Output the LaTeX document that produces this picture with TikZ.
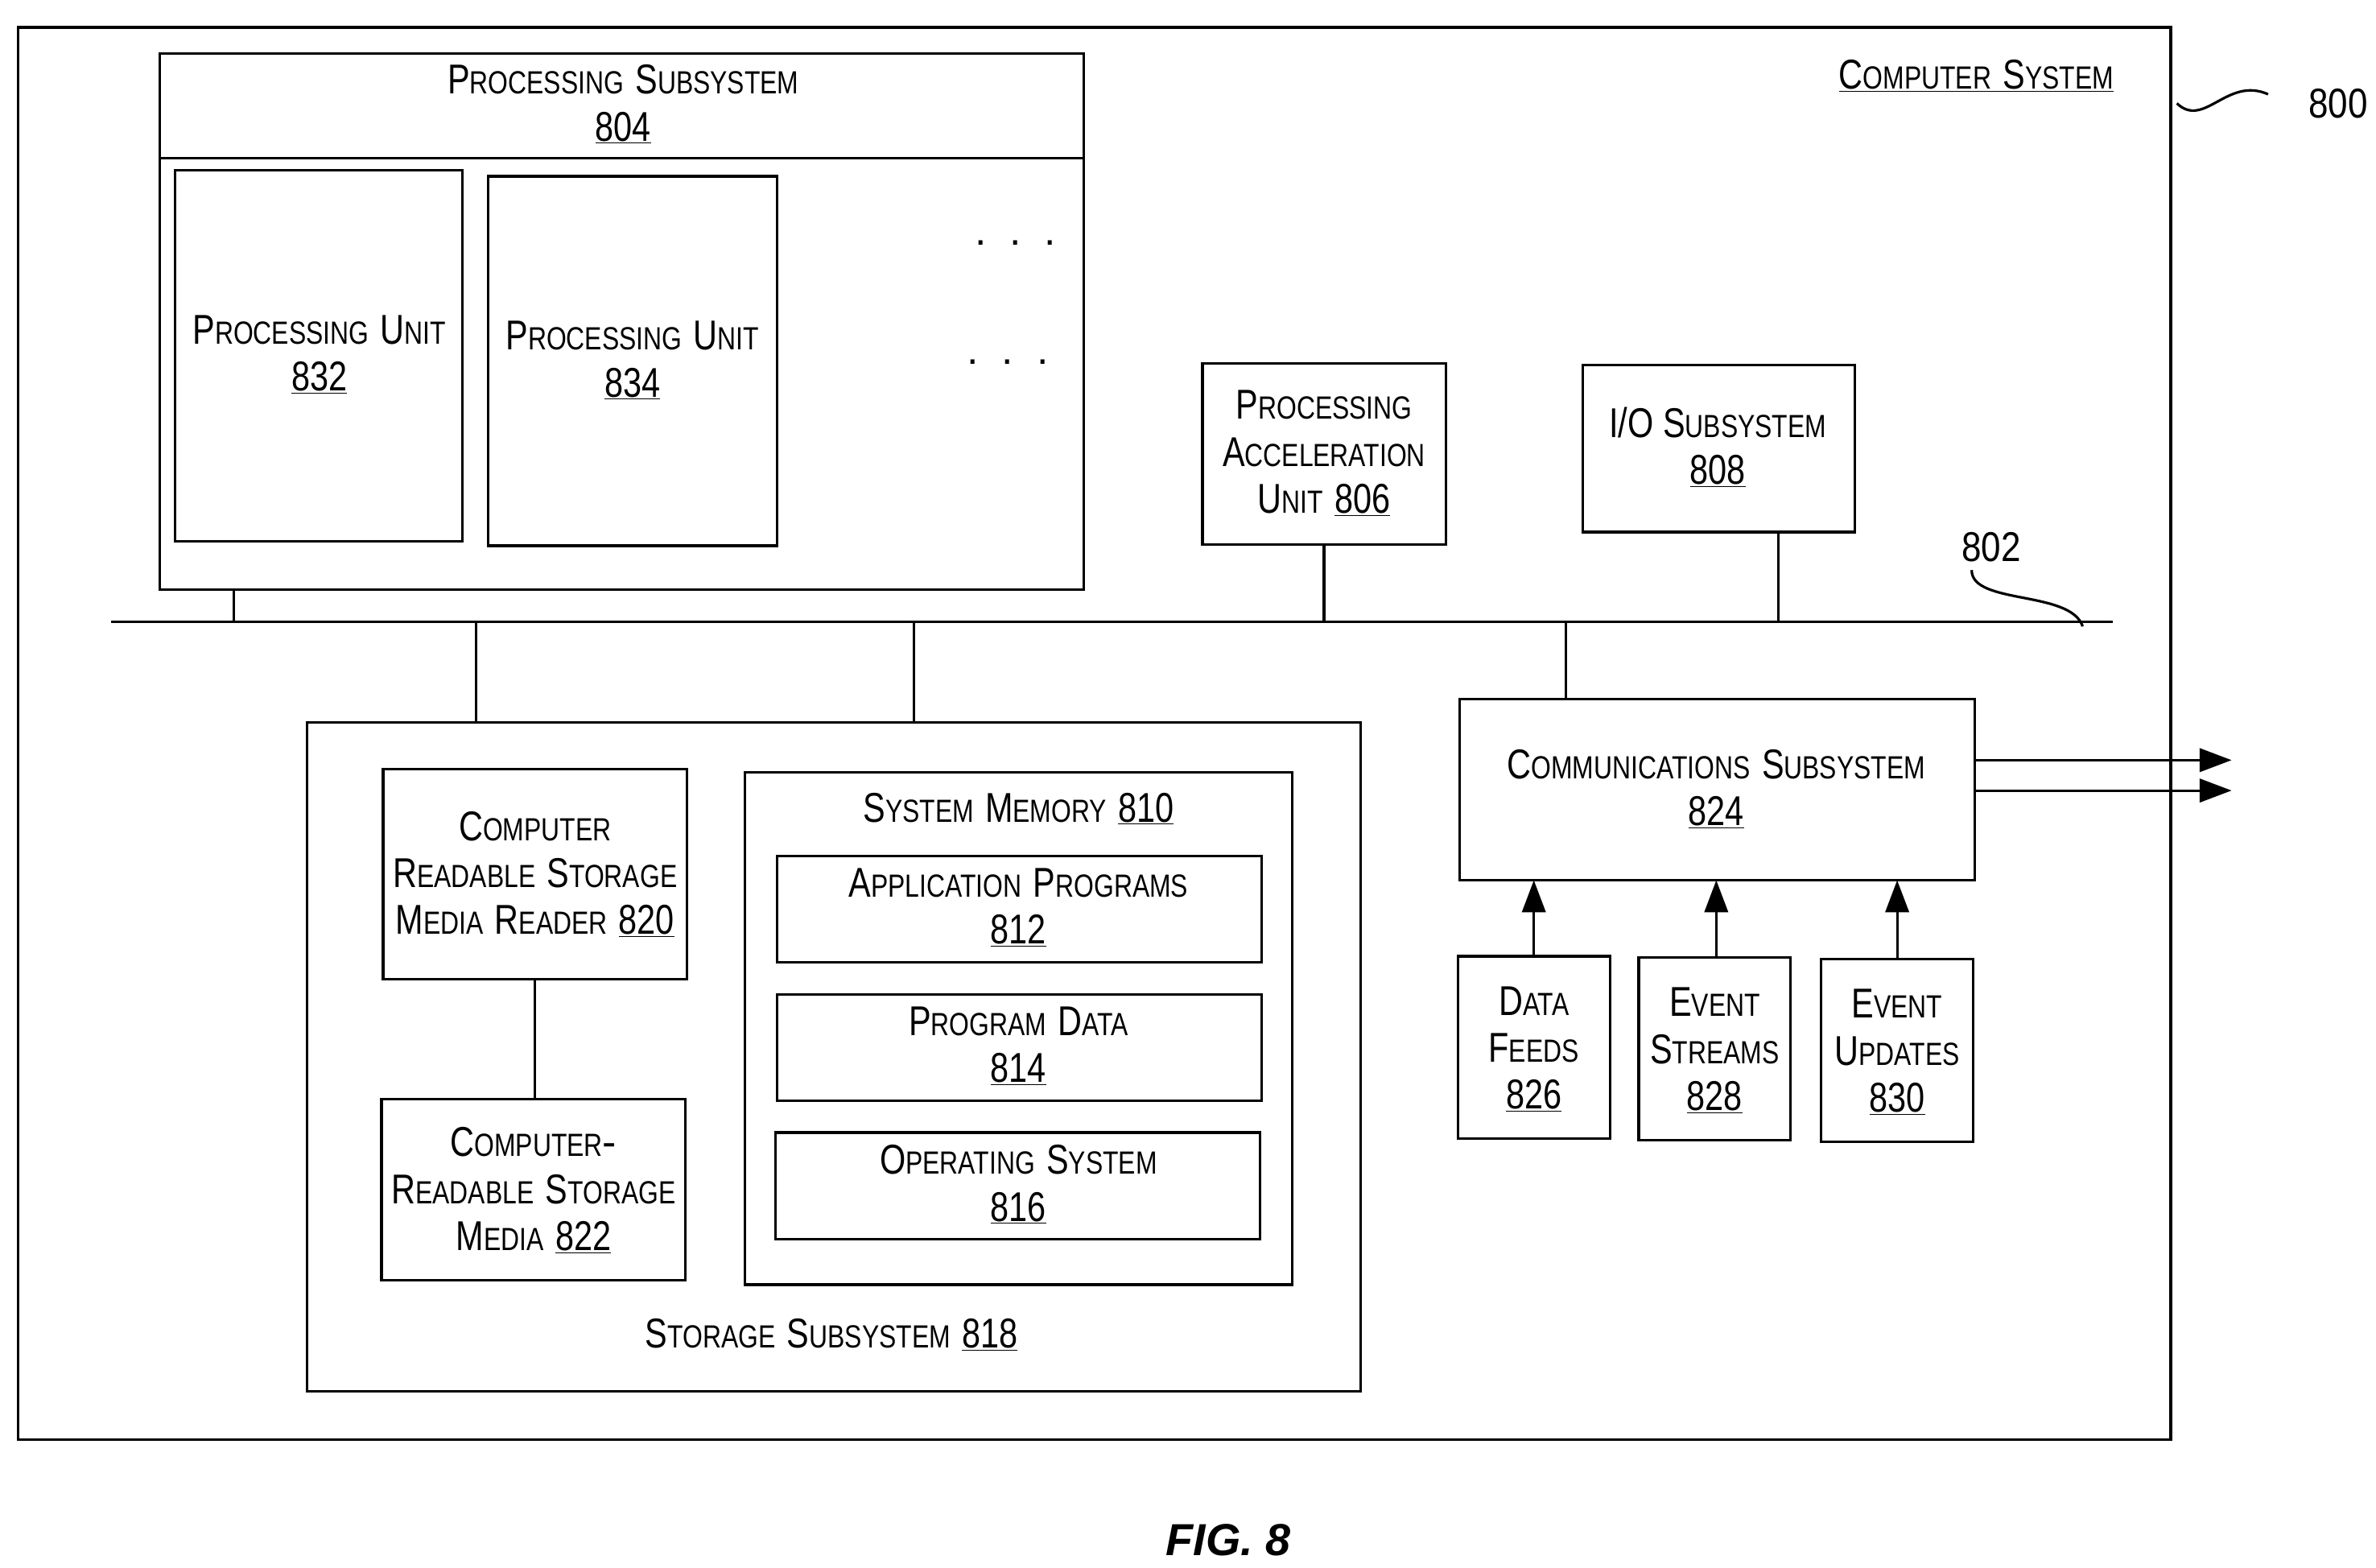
\documentclass[tikz,border=0pt]{standalone}
\usepackage{fontspec}
\usepackage{graphicx}
\setmainfont{Liberation Sans}
\usetikzlibrary{arrows.meta}
\newcommand\K[2]{\scalebox{0.8}[1]{{\fontsize{39}{44}\selectfont #1}{\fontsize{30}{44}\selectfont #2}}}
\newcommand\N[1]{\scalebox{0.8}[1]{\fontsize{39}{44}\selectfont\underline{#1}}}
\begin{document}
\begin{tikzpicture}[x=0.05cm,y=-0.05cm,
  box/.style={draw,line width=2.4pt},
  ln/.style={line width=2.4pt},
  t/.style={inner sep=0pt,align=center,font=\fontsize{39}{44}\selectfont},
  arr/.style={line width=2.4pt,-{Triangle[length=30pt,width=22pt]}}]
\useasboundingbox (0,0) rectangle (1563,1031);
\draw[box] (12,18) rectangle (1428,947);
\node[t] (cs) at (1300,50) {\underline{\K{C}{OMPUTER} \K{S}{YSTEM}}};
\coordinate (s1) at (1432,68);
\node[t] (l800) at (1538,68) {\scalebox{0.85}[1]{800}};
\draw[ln] (s1) .. controls (1450,85) and (1465,50) .. (1492,62);
% processing subsystem
\draw[box] (105,35) rectangle (713,388);
\draw[ln] (105,104) -- (713,104);
\node[t] (ps) at (410,52) {\K{P}{ROCESSING} \K{S}{UBSYSTEM}};
\node[t] (ps2) at (410,84) {\N{804}};
\draw[box] (115,112) rectangle (304,356);
\node[t] (pu1) at (210,233) {\K{P}{ROCESSING} \K{U}{NIT}\\\N{832}};
\draw[box] (321,116) rectangle (511,359);
\node[t] (pu2) at (416,237) {\K{P}{ROCESSING} \K{U}{NIT}\\\N{834}};
\node[t] (d1) at (668,160) {.\ \ .\ \ .};
\node[t] (d2) at (663,238) {.\ \ .\ \ .};
% bus
\coordinate (bl) at (73,409); \coordinate (br) at (1390,409);
\draw[ln] (bl) -- (br);
\node[t] (l802) at (1310,360) {\scalebox{0.85}[1]{802}};
\draw[ln] (1297,375) .. controls (1297,398) and (1362,388) .. (1370,412);
\draw[ln] (154,388) -- (154,409);
\draw[box] (791,239) rectangle (951,358);
\node[t] (pau) at (871,298) {\K{P}{ROCESSING}\\\K{A}{CCELERATION}\\\K{U}{NIT} \N{806}};
\draw[ln] (871,358) -- (871,409);
\draw[box] (1041,240) rectangle (1220,350);
\node[t] (io) at (1130,294) {\K{I/O S}{UBSYSTEM}\\\N{808}};
\draw[ln] (1170,350) -- (1170,409);
% storage
\draw[box] (202,475) rectangle (895,915);
\draw[ln] (313,409) -- (313,475);
\draw[ln] (601,409) -- (601,475);
\node[t] (ss) at (547,878) {\K{S}{TORAGE} \K{S}{UBSYSTEM} \N{818}};
\draw[box] (252,506) rectangle (452,644);
\node[t] (r820) at (352,575) {\K{C}{OMPUTER}\\\K{R}{EADABLE} \K{S}{TORAGE}\\\K{M}{EDIA} \K{R}{EADER} \N{820}};
\draw[box] (251,723) rectangle (451,842);
\node[t] (m822) at (351,783) {\K{C}{OMPUTER}-\\\K{R}{EADABLE} \K{S}{TORAGE}\\\K{M}{EDIA} \N{822}};
\draw[ln] (352,644) -- (352,723);
\draw[box] (490,508) rectangle (850,845);
\node[t] (sm) at (670,532) {\K{S}{YSTEM} \K{M}{EMORY} \N{810}};
\draw[box] (511,563) rectangle (830,633);
\node[t] (ap) at (670,597) {\K{A}{PPLICATION} \K{P}{ROGRAMS}\\\N{812}};
\draw[box] (511,654) rectangle (830,724);
\node[t] (pd) at (670,688) {\K{P}{ROGRAM} \K{D}{ATA}\\\N{814}};
\draw[box] (510,745) rectangle (829,815);
\node[t] (os) at (670,779) {\K{O}{PERATING} \K{S}{YSTEM}\\\N{816}};
% comm
\draw[box] (960,460) rectangle (1299,579);
\node[t] (cm) at (1129,519) {\K{C}{OMMUNICATIONS} \K{S}{UBSYSTEM}\\\N{824}};
\draw[ln] (1030,409) -- (1030,460);
\draw[arr] (1299,500) -- (1468,500);
\draw[arr] (1299,520) -- (1468,520);
\draw[box] (959,629) rectangle (1059,749);
\node[t] (df) at (1009,690) {\K{D}{ATA}\\\K{F}{EEDS}\\\N{826}};
\draw[box] (1078,630) rectangle (1178,750);
\node[t] (es) at (1128,691) {\K{E}{VENT}\\\K{S}{TREAMS}\\\N{828}};
\draw[box] (1198,631) rectangle (1298,751);
\node[t] (eu) at (1248,692) {\K{E}{VENT}\\\K{U}{PDATES}\\\N{830}};
\draw[arr] (1009,629) -- (1009,579);
\draw[arr] (1129,630) -- (1129,579);
\draw[arr] (1248,631) -- (1248,579);
\node[t,font=\fontsize{42}{46}\selectfont\bfseries\itshape] (fig) at (808,1013) {FIG. 8};
\end{tikzpicture}
\end{document}
